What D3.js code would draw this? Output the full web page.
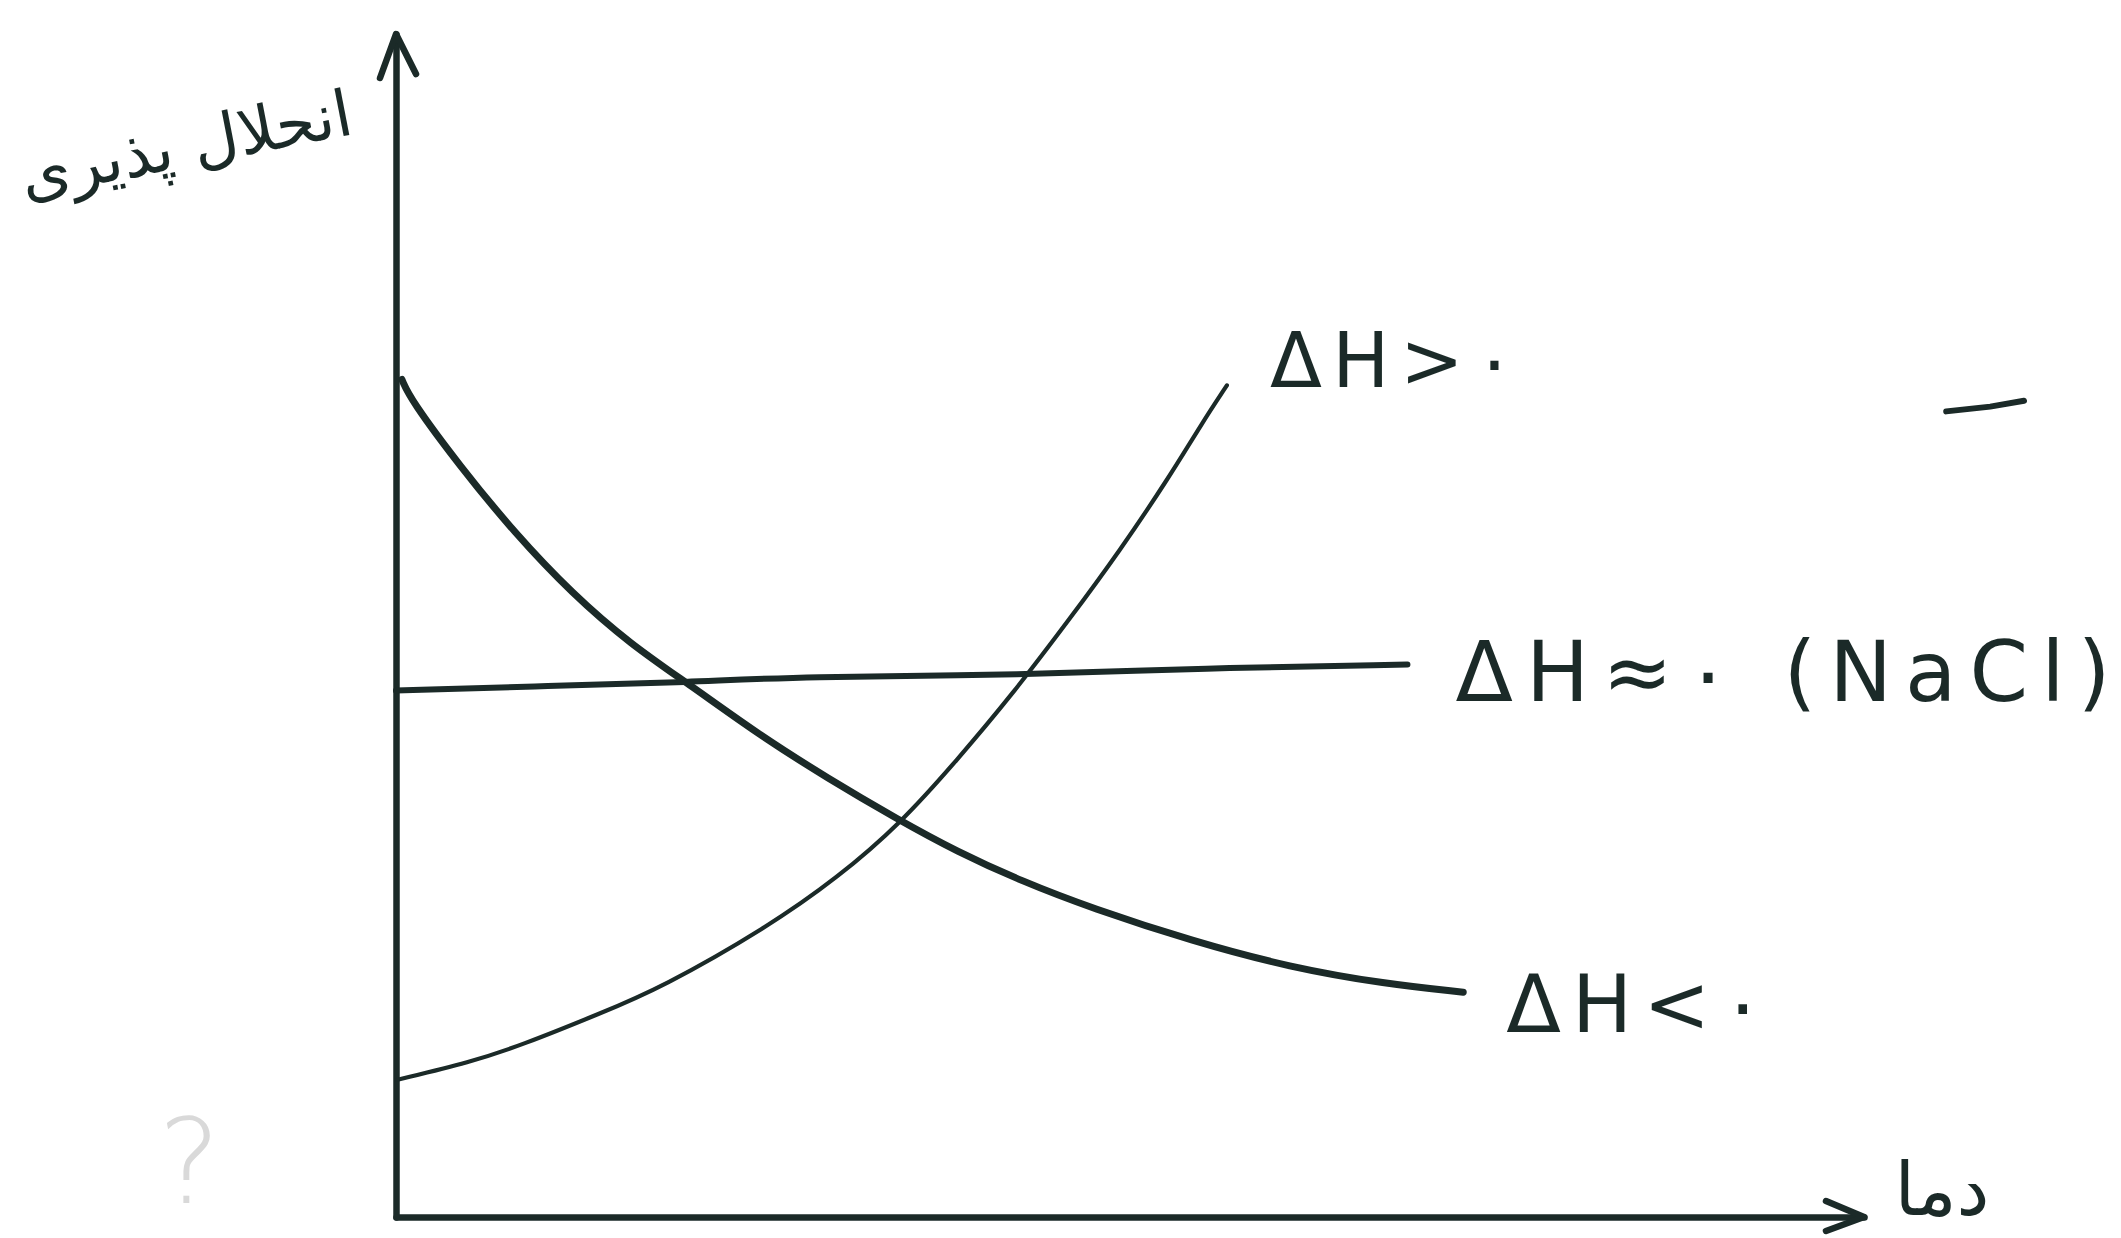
<!DOCTYPE html>
<html>
<head>
<meta charset="utf-8">
<script src="https://cdn.jsdelivr.net/npm/d3@7"></script>
<style>
  html, body { margin: 0; padding: 0; background: #ffffff; }
  svg { display: block; }
</style>
</head>
<body>
<svg id="chart" width="2121" height="1238"></svg>
<script>
// Solubility versus temperature for three kinds of dissolution enthalpy
// (arbitrary units, 0-100 on both axes).

// ΔH > 0 : solubility rises with temperature
const tempEndo = [0.1, 5.1, 8.5, 13.9, 18.1, 25.3, 30.1, 34.4, 38.2, 42.0, 45.8, 49.3, 52.7, 54.9, 56.6];
const solEndo  = [11.6, 13.1, 14.5, 17.2, 19.4, 24.5, 28.7, 33.3, 38.6, 44.2, 50.4, 56.3, 62.6, 67.1, 70.3];

// ΔH ≈ 0 (NaCl) : almost constant
const tempFlat = [0, 10.5, 20.0, 27.6, 42.8, 54.9, 68.9];
const solFlat  = [44.5, 44.9, 45.2, 45.7, 45.8, 46.4, 46.7];

// ΔH < 0 : solubility falls with temperature
const tempExo = [0.4, 1.0, 4.4, 8.1, 12.0, 16.0, 20.0, 24.8, 29.4, 34.2, 38.2, 42.6, 47.4, 54.3, 60.9, 67.4, 72.7];
const solExo  = [70.8, 69.1, 63.4, 57.8, 52.7, 48.4, 45.0, 40.7, 37.1, 33.6, 30.9, 28.4, 26.1, 23.3, 21.1, 19.7, 19.0];

// Curve labels
const labelEndo = "ΔH>۰";
const labelFlat = "ΔH≈۰ (NaCl)";
const labelExo  = "ΔH<۰";
const xTitle = "دما";
const yTitle = "انحلال پذیری";

const ink = "#1b2a28";
const svg = d3.select("#chart");

const x = d3.scaleLinear().domain([0, 100]).range([396, 1864]);
const y = d3.scaleLinear().domain([0, 100]).range([1217, 34]);

// Axes: bare domain lines, no ticks
const xAxis = svg.append("g")
  .attr("transform", `translate(0,${y(0)})`)
  .call(d3.axisBottom(x).ticks(0).tickSizeOuter(0));
const yAxis = svg.append("g")
  .attr("transform", `translate(${x(0)},0)`)
  .call(d3.axisLeft(y).ticks(0).tickSizeOuter(0));
[xAxis, yAxis].forEach(g => g.select(".domain")
  .attr("stroke", ink).attr("stroke-width", 6.5).attr("stroke-linecap", "round"));

// Arrow heads at the axis ends
const arrow = d3.line();
svg.append("path")
  .attr("d", arrow([[x(0) - 16, y(100) + 44], [x(0), y(100)], [x(0) + 20, y(100) + 40]]))
  .attr("fill", "none").attr("stroke", ink).attr("stroke-width", 6.5)
  .attr("stroke-linecap", "round").attr("stroke-linejoin", "round");
svg.append("path")
  .attr("d", arrow([[x(100) - 38, y(0) - 16], [x(100), y(0)], [x(100) - 38, y(0) + 14]]))
  .attr("fill", "none").attr("stroke", ink).attr("stroke-width", 6.5)
  .attr("stroke-linecap", "round").attr("stroke-linejoin", "round");

// Curves, smoothed through the sampled points
const line = d3.line()
  .x(d => x(d[0]))
  .y(d => y(d[1]))
  .curve(d3.curveBasis);

const series = [
  { t: tempExo,  s: solExo,  w: 7 },
  { t: tempFlat, s: solFlat, w: 6 },
  { t: tempEndo, s: solEndo, w: 4.2 }
];
series.forEach(ser => {
  svg.append("path")
    .datum(d3.zip(ser.t, ser.s))
    .attr("d", line)
    .attr("fill", "none")
    .attr("stroke", ink)
    .attr("stroke-width", ser.w)
    .attr("stroke-linecap", "round");
});

// Curve labels, placed just past the end of each curve
function curveLabel(text, t, s, dx, dy, size, len) {
  svg.append("text")
    .attr("x", x(t) + dx)
    .attr("y", y(s) + dy)
    .attr("font-family", "DejaVu Sans")
    .attr("font-size", size)
    .attr("fill", ink)
    .attr("direction", "ltr")
    .attr("textLength", len)
    .attr("lengthAdjust", "spacing")
    .text(text);
}
curveLabel(labelEndo, tempEndo[tempEndo.length - 1], solEndo[solEndo.length - 1], 43, 2, 76, 245);
curveLabel(labelFlat, tempFlat[tempFlat.length - 1], solFlat[solFlat.length - 1], 48, 36, 84, 655);
curveLabel(labelExo,  tempExo[tempExo.length - 1],   solExo[solExo.length - 1],   43, 40, 80, 258);

// Axis titles
svg.append("text")
  .attr("x", x(100) + 78)
  .attr("y", y(0) - 2)
  .attr("text-anchor", "middle")
  .attr("font-family", "DejaVu Sans")
  .attr("font-size", 74)
  .attr("fill", ink)
  .text(xTitle);

svg.append("text")
  .attr("transform", `translate(${x(0) - 206},${y(100) + 132}) rotate(-11)`)
  .attr("text-anchor", "middle")
  .attr("font-family", "DejaVu Sans")
  .attr("font-size", 64)
  .attr("fill", ink)
  .text(yTitle);

// Faint pencil question mark near the origin and a stray pen stroke
svg.append("text")
  .attr("x", x(0) - 238)
  .attr("y", y(0) - 14)
  .attr("font-family", "DejaVu Sans")
  .attr("font-size", 118)
  .attr("font-weight", 200)
  .attr("fill", "#d9d9d9")
  .text("?");

svg.append("path")
  .attr("d", arrow([[x(105.6), y(68.1)], [x(108.6), y(68.5)], [x(110.9), y(69.0)]]))
  .attr("fill", "none").attr("stroke", ink).attr("stroke-width", 6)
  .attr("stroke-linecap", "round");
</script>
</body>
</html>
